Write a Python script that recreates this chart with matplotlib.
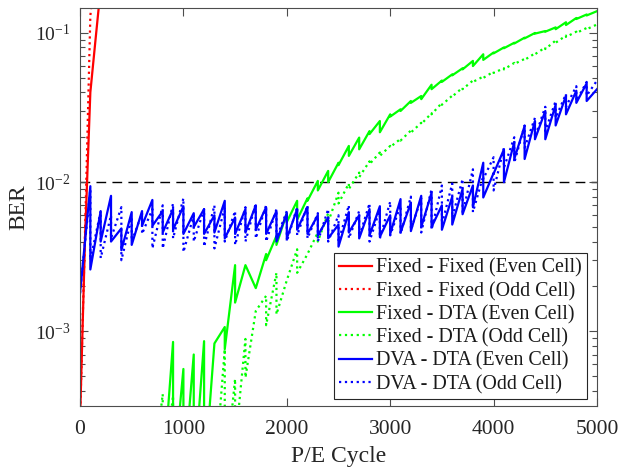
import numpy as np
import matplotlib
matplotlib.use('Agg')
import matplotlib.pyplot as plt

plt.rcParams['font.family'] = 'serif'
plt.rcParams['font.serif'] = ['Liberation Serif', 'DejaVu Serif']
plt.rcParams['mathtext.fontset'] = 'custom'
plt.rcParams['mathtext.rm'] = 'Liberation Serif'
plt.rcParams['mathtext.it'] = 'Liberation Serif:italic'
plt.rcParams['mathtext.default'] = 'regular'
plt.rcParams['axes.unicode_minus'] = False

# ---------------- data ----------------
labels = ['Fixed - Fixed (Even Cell)', 'Fixed - Fixed (Odd Cell)',
          'Fixed - DTA (Even Cell)', 'Fixed - DTA (Odd Cell)',
          'DVA - DTA (Even Cell)', 'DVA - DTA (Odd Cell)']

red_x = [0, 50, 100, 150, 200]
red_even = [2.5e-4, 4.5e-3, 4.0e-2, 9.0e-2, 2.0e-1]
red_odd = [2.5e-4, 5.0e-3, 1.3e-1, 3.0e-1, 5.0e-1]

# blue: start value at 0, then at every step a value before the reset (peak) and after (trough)
blue_steps = list(range(100, 5001, 100))
blue_start = 1.8e-3
blue_even_peak = [0.0094, 0.0064, 0.0081, 0.0049, 0.0063, 0.0064, 0.0076, 0.0064, 0.0066, 0.0069,
                  0.0062, 0.0066, 0.0060, 0.0075, 0.0058, 0.0066, 0.0070, 0.0068, 0.0064, 0.0062,
                  0.0066, 0.0068, 0.0060, 0.0058, 0.0052, 0.0063, 0.0060, 0.0066, 0.0069, 0.0060,
                  0.0077, 0.0073, 0.0081, 0.0085, 0.0070, 0.0080, 0.0090, 0.0095, 0.0135, 0.0115,
                  0.0166, 0.0186, 0.0238, 0.0257, 0.0300, 0.0330, 0.0380, 0.0410, 0.0460, 0.0420]
blue_even_trough = [0.0026, 0.0040, 0.0040, 0.0035, 0.0038, 0.0051, 0.0051, 0.0046, 0.0048, 0.0045,
                    0.0050, 0.0045, 0.0046, 0.0042, 0.0045, 0.0046, 0.0048, 0.0045, 0.0040, 0.0042,
                    0.0048, 0.0045, 0.0044, 0.0042, 0.0037, 0.0046, 0.0042, 0.0044, 0.0043, 0.0045,
                    0.0046, 0.0047, 0.0050, 0.0050, 0.0048, 0.0052, 0.0061, 0.0068, 0.0079, 0.0114,
                    0.0100, 0.0143, 0.0143, 0.0194, 0.0194, 0.0240, 0.0285, 0.0340, 0.0350]
blue_odd_peak = [0.0090, 0.0064, 0.0060, 0.0068, 0.0058, 0.0062, 0.0066, 0.0070, 0.0072, 0.0078,
                 0.0060, 0.0066, 0.0070, 0.0068, 0.0064, 0.0068, 0.0072, 0.0070, 0.0066, 0.0064,
                 0.0068, 0.0070, 0.0062, 0.0066, 0.0060, 0.0070, 0.0064, 0.0072, 0.0066, 0.0074,
                 0.0070, 0.0080, 0.0078, 0.0090, 0.0095, 0.0098, 0.0105, 0.0122, 0.0110, 0.0147,
                 0.0170, 0.0200, 0.0240, 0.0270, 0.0320, 0.0350, 0.0390, 0.0440, 0.0470, 0.0480]
blue_odd_trough = [0.0030, 0.0031, 0.0042, 0.0030, 0.0040, 0.0045, 0.0036, 0.0036, 0.0042, 0.0034,
                   0.0040, 0.0037, 0.0036, 0.0040, 0.0038, 0.0040, 0.0042, 0.0040, 0.0042, 0.0040,
                   0.0044, 0.0042, 0.0040, 0.0040, 0.0040, 0.0042, 0.0043, 0.0040, 0.0042, 0.0044,
                   0.0045, 0.0048, 0.0046, 0.0048, 0.0052, 0.0058, 0.0062, 0.0063, 0.0105, 0.0088,
                   0.0125, 0.0135, 0.0170, 0.0200, 0.0220, 0.0270, 0.0320, 0.0350, 0.0380]

green_even_start = (800, 1e-4)
green_even_steps = list(range(900, 5001, 100))
green_even_peak = [8.5e-4, 5.6e-4, 7.0e-4, 8.6e-4, 8.3e-4, 1.07e-3, 2.78e-3, 2.78e-3, 1.95e-3, 3.3e-3,
                   4.37e-3, 6.2e-3, 7.5e-3, 7.8e-3, 0.0102, 0.0119, 0.0135, 0.0175, 0.0199, 0.0220,
                   0.0257, 0.0285, 0.0308, 0.035, 0.0378, 0.045, 0.048, 0.0528, 0.058, 0.065,
                   0.072, 0.074, 0.080, 0.086, 0.093, 0.100, 0.103, 0.109, 0.118, 0.126,
                   0.133, 0.140]
green_even_trough = [1e-4, 1e-4, 1e-4, 1e-4, 8.3e-4, 7.6e-4, 1.56e-3, 2.78e-3, 1.95e-3, 3.0e-3,
                     3.8e-3, 5.4e-3, 5.6e-3, 7.5e-3, 8.8e-3, 0.0100, 0.0130, 0.0150, 0.0166, 0.0210,
                     0.0216, 0.0275, 0.030, 0.034, 0.036, 0.042, 0.047, 0.052, 0.057, 0.060,
                     0.066, 0.073, 0.079, 0.085, 0.092, 0.099, 0.102, 0.106, 0.113, 0.124,
                     0.131]

green_odd_start = (700, 1e-4)
green_odd_steps = list(range(800, 5001, 100))
green_odd_peak = [3.8e-4, 3.7e-4, 1e-4, 1e-4, 1e-4, 1e-4, 7.6e-4, 4.8e-4, 8.9e-4, 1.37e-3,
                  1.73e-3, 2.47e-3, 2.2e-3, 3.55e-3, 3.3e-3, 4.6e-3, 6.2e-3, 8.5e-3, 9.8e-3, 0.0116,
                  0.0138, 0.0158, 0.0175, 0.0195, 0.0222, 0.025, 0.029, 0.034, 0.038, 0.043,
                  0.048, 0.051, 0.055, 0.058, 0.063, 0.067, 0.073, 0.080, 0.089, 0.096,
                  0.102, 0.108, 0.114]
green_odd_trough = [1e-4, 1e-4, 1e-4, 1e-4, 1e-4, 1e-4, 1e-4, 1.7e-4, 4.9e-4, 1.37e-3,
                    1.1e-3, 1.3e-3, 2.2e-3, 2.47e-3, 3.3e-3, 4.0e-3, 5.4e-3, 7.2e-3, 9.0e-3, 0.0108,
                    0.0132, 0.0150, 0.0172, 0.0190, 0.0215, 0.0245, 0.0285, 0.033, 0.0375, 0.042,
                    0.047, 0.050, 0.054, 0.057, 0.062, 0.066, 0.072, 0.078, 0.086, 0.094,
                    0.100, 0.106]

threshold = 1e-2
x_ticks = [0, 1000, 2000, 3000, 4000, 5000]


def sawtooth(x0, y0, steps, peaks, troughs):
    X, Y = [x0], [y0]
    for i, (x, p) in enumerate(zip(steps, peaks)):
        X.append(x)
        Y.append(p)
        if i < len(troughs):
            X.append(x)
            Y.append(troughs[i])
    return X, Y


# ---------------- plot ----------------
fig = plt.figure(figsize=(6.19, 4.69), dpi=100)
ax = fig.add_axes([80 / 619, 1 - 406 / 469, 517 / 619, 398 / 469])

ax.axhline(threshold, color='k', lw=1.0, ls=(0, (7, 4.5)), zorder=1)

lw = 1.6
ax.plot(red_x, red_even, color='#ff0000', lw=lw, ls='-', label=labels[0])
ax.plot(red_x, red_odd, color='#ff0000', lw=lw, ls=':', label=labels[1])

gx, gy = sawtooth(*green_even_start, green_even_steps, green_even_peak, green_even_trough)
ax.plot(gx, gy, color='#00ff00', lw=lw, ls='-', label=labels[2])
gx, gy = sawtooth(*green_odd_start, green_odd_steps, green_odd_peak, green_odd_trough)
ax.plot(gx, gy, color='#00ff00', lw=lw, ls=':', label=labels[3])

bx, by = sawtooth(0, blue_start, blue_steps, blue_even_peak, blue_even_trough)
ax.plot(bx, by, color='#0000ff', lw=lw, ls='-', label=labels[4])
bx, by = sawtooth(0, blue_start, blue_steps, blue_odd_peak, blue_odd_trough)
ax.plot(bx, by, color='#0000ff', lw=lw, ls=':', label=labels[5])

ax.set_yscale('log')
ax.set_xlim(0, 5000)
ax.set_ylim(10 ** -3.5, 0.147)
ax.set_xticks(x_ticks)
ax.set_xticklabels([str(t) for t in x_ticks])

for s in ax.spines.values():
    s.set_color('0.3')
    s.set_linewidth(0.8)
ax.tick_params(which='both', direction='in', top=True, right=True, color='0.3', width=0.8)
ax.tick_params(which='major', length=6)
ax.tick_params(which='minor', length=3.5)
ax.tick_params(axis='x', labelsize=15.5, pad=10, labelcolor='0.15')
ax.tick_params(axis='y', labelsize=14, pad=7, labelcolor='0.15')

ax.set_xlabel('P/E Cycle', fontsize=17, color='0.15', labelpad=5)
ax.set_ylabel('BER', fontsize=17, color='0.15', labelpad=4)

leg = ax.legend(loc='lower right', bbox_to_anchor=(0.980, 0.0176), borderaxespad=0,
                fontsize=14.4, frameon=True, fancybox=False, framealpha=1,
                edgecolor='0.15', handlelength=1.65, handletextpad=0.2,
                labelspacing=0.2, borderpad=0.25)
leg.get_frame().set_linewidth(0.8)
for t in leg.get_texts():
    t.set_color('0.1')

fig.savefig('out.png', dpi=100)
